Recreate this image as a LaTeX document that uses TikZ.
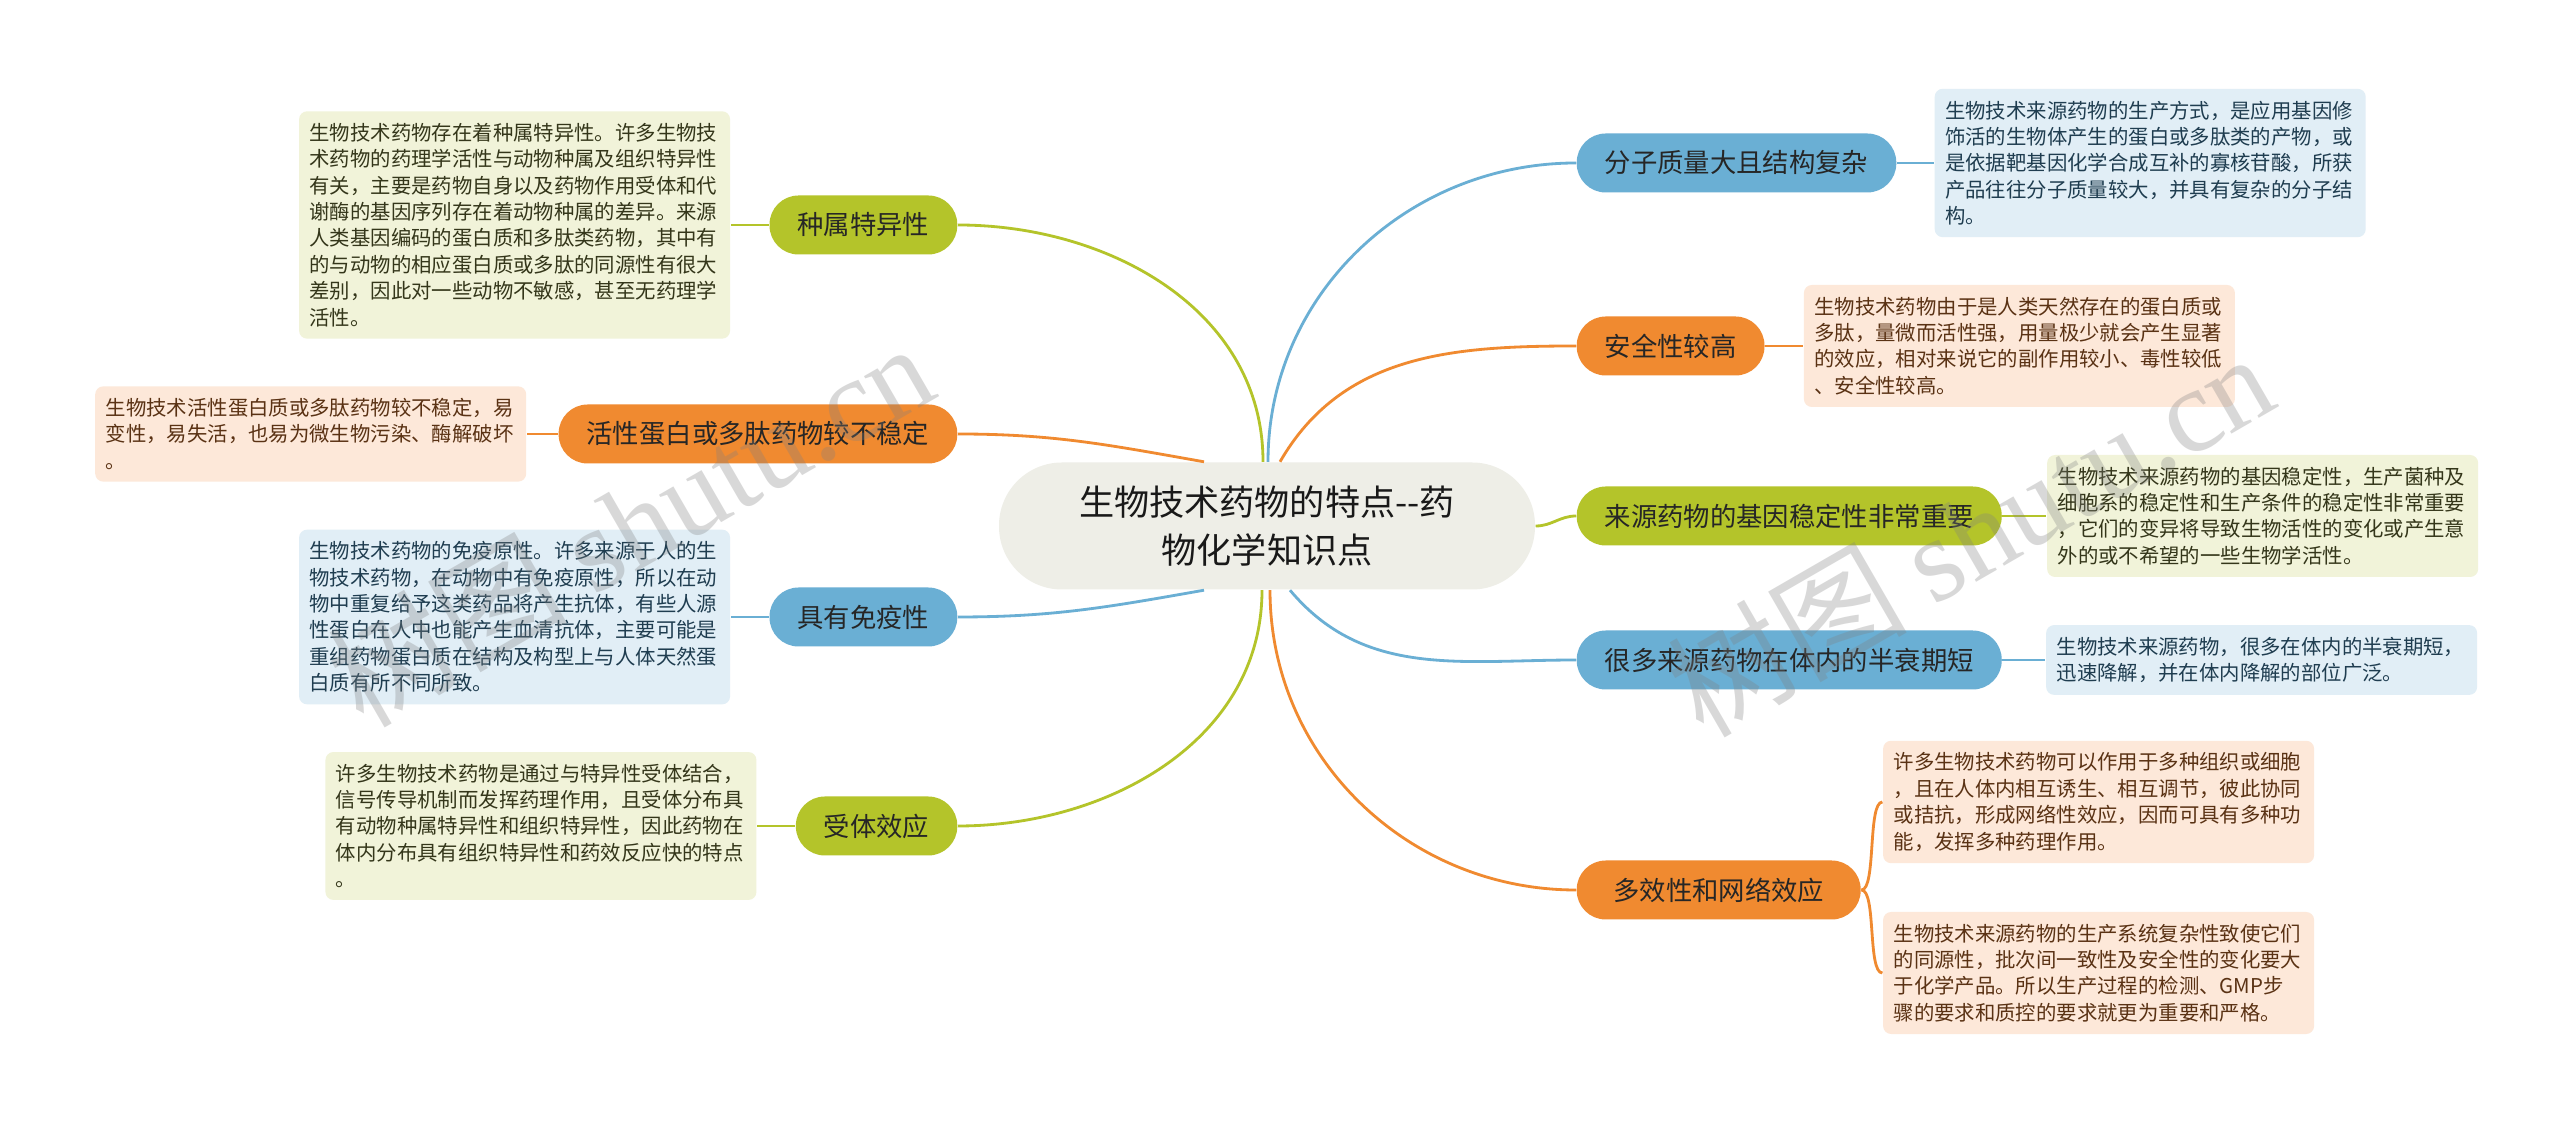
\documentclass[tikz,border=0pt]{standalone}
\usepackage{fontspec}
\setmainfont{Noto Sans CJK SC}
\newfontfamily\wmserif{Liberation Serif}
\usepackage{tikz}
\usetikzlibrary{positioning}
\definecolor{brgreen}{HTML}{B4C42A}
\definecolor{brorange}{HTML}{F08A30}
\definecolor{brblue}{HTML}{6AAFD4}
\definecolor{topicfill}{HTML}{EEEEE7}
\definecolor{lfgreen}{HTML}{F1F3D9}
\definecolor{lforange}{HTML}{FDE8D9}
\definecolor{lfblue}{HTML}{E1EEF6}
\definecolor{txgreen}{HTML}{34361A}
\definecolor{txorange}{HTML}{5A3214}
\definecolor{txblue}{HTML}{1F3D50}

\begin{document}
\begin{tikzpicture}[node distance=0.38cm,
    branch/.style={rectangle, rounded corners=2.9mm, minimum height=5.9mm, inner xsep=2.8mm, inner ysep=0pt, font=\fontsize{7.5}{9}\selectfont, text=black!85},
    leaf/.style={rectangle, rounded corners=0.8mm, text width=4.1cm, align=left, inner xsep=1.05mm, inner ysep=1.2mm, font=\fontsize{5.8}{7.5}\selectfont},
    link/.style={line width=0.8pt},
    wmtext/.style={text=black!50, opacity=0.3, font=\fontsize{34}{34}\selectfont}]
    \fill[white] (0,0) rectangle (25.6,11.23);
    \useasboundingbox (0,0) rectangle (25.6,11.23);

    \node (topic) [rectangle, rounded corners=6.3mm, fill=topicfill, minimum width=5.36cm, minimum height=12.7mm, align=center, font=\fontsize{10}{13.7}\selectfont, text=black!90] at (12.67,5.97) {生物技术药物的特点-{}-药\\物化学知识点};

    \node (species) [branch, fill=brgreen, anchor=east] at (9.58,8.98) {种属特异性};
    \node (unstable) [branch, fill=brorange, anchor=east] at (9.58,6.89) {活性蛋白或多肽药物较不稳定};
    \node (immune) [branch, fill=brblue, anchor=east] at (9.58,5.06) {具有免疫性};
    \node (receptor) [branch, fill=brgreen, anchor=east] at (9.58,2.97) {受体效应};
    \node (mass) [branch, fill=brblue, anchor=west] at (15.76,9.60) {分子质量大且结构复杂};
    \node (safety) [branch, fill=brorange, anchor=west] at (15.76,7.77) {安全性较高};
    \node (gene) [branch, fill=brgreen, anchor=west] at (15.76,6.07) {来源药物的基因稳定性非常重要};
    \node (halflife) [branch, fill=brblue, anchor=west] at (15.76,4.63) {很多来源药物在体内的半衰期短};
    \node (network) [branch, fill=brorange, anchor=west, minimum width=2.84cm] at (15.76,2.33) {多效性和网络效应};

    \node (speciesnote) [leaf, fill=lfgreen, text=txgreen, left=of species] {生物技术药物存在着种属特异性。许多生物技\\术药物的药理学活性与动物种属及组织特异性\\有关，主要是药物自身以及药物作用受体和代\\谢酶的基因序列存在着动物种属的差异。来源\\人类基因编码的蛋白质和多肽类药物，其中有\\的与动物的相应蛋白质或多肽的同源性有很大\\差别，因此对一些动物不敏感，甚至无药理学\\活性。};
    \node (unstablenote) [leaf, fill=lforange, text=txorange, left=0.31cm of unstable] {生物技术活性蛋白质或多肽药物较不稳定，易\\变性，易失活，也易为微生物污染、酶解破坏\\。};
    \node (immunenote) [leaf, fill=lfblue, text=txblue, left=of immune] {生物技术药物的免疫原性。许多来源于人的生\\物技术药物，在动物中有免疫原性，所以在动\\物中重复给予这类药品将产生抗体，有些人源\\性蛋白在人中也能产生血清抗体，主要可能是\\重组药物蛋白质在结构及构型上与人体天然蛋\\白质有所不同所致。};
    \node (receptornote) [leaf, fill=lfgreen, text=txgreen, left=of receptor] {许多生物技术药物是通过与特异性受体结合，\\信号传导机制而发挥药理作用，且受体分布具\\有动物种属特异性和组织特异性，因此药物在\\体内分布具有组织特异性和药效反应快的特点\\。};
    \node (massnote) [leaf, fill=lfblue, text=txblue, right=0.37cm of mass] {生物技术来源药物的生产方式，是应用基因修\\饰活的生物体产生的蛋白或多肽类的产物，或\\是依据靶基因化学合成互补的寡核苷酸，所获\\产品往往分子质量较大，并具有复杂的分子结\\构。};
    \node (safetynote) [leaf, fill=lforange, text=txorange, right=of safety] {生物技术药物由于是人类天然存在的蛋白质或\\多肽，量微而活性强，用量极少就会产生显著\\的效应，相对来说它的副作用较小、毒性较低\\、安全性较高。};
    \node (genenote) [leaf, fill=lfgreen, text=txgreen, right=0.44cm of gene] {生物技术来源药物的基因稳定性，生产菌种及\\细胞系的稳定性和生产条件的稳定性非常重要\\，它们的变异将导致生物活性的变化或产生意\\外的或不希望的一些生物学活性。};
    \node (halflifenote) [leaf, fill=lfblue, text=txblue, right=0.43cm of halflife] {生物技术来源药物，很多在体内的半衰期短，\\迅速降解，并在体内降解的部位广泛。};
    \node (networknote) [leaf, fill=lforange, text=txorange, right=0.21cm of network, yshift=0.88cm] {许多生物技术药物可以作用于多种组织或细胞\\，且在人体内相互诱生、相互调节，彼此协同\\或拮抗，形成网络性效应，因而可具有多种功\\能，发挥多种药理作用。};
    \node (qualitynote) [leaf, fill=lforange, text=txorange, right=0.21cm of network, yshift=-0.83cm] {生物技术来源药物的生产系统复杂性致使它们\\的同源性，批次间一致性及安全性的变化要大\\于化学产品。所以生产过程的检测、GMP步\\骤的要求和质控的要求就更为重要和严格。};

    \draw[link, brgreen] ([xshift=-0.4mm]topic.north) to[out=90, in=0] (species.east);
    \draw[link, brorange] ([xshift=-6.3mm]topic.north) to[out=170, in=0] (unstable.east);
    \draw[link, brblue] ([xshift=-6.3mm]topic.south) to[out=190, in=0] (immune.east);
    \draw[link, brgreen] ([xshift=-0.5mm]topic.south) to[out=270, in=0] (receptor.east);
    \draw[link, brblue] ([xshift=0.1mm]topic.north) to[out=90, in=180] (mass.west);
    \draw[link, brorange] ([xshift=1.3mm]topic.north) to[out=60, in=180] (safety.west);
    \draw[link, brgreen] (topic.east) to[out=0, in=180] (gene.west);
    \draw[link, brblue] ([xshift=2.3mm]topic.south) to[out=-50, in=180] (halflife.west);
    \draw[link, brorange] ([xshift=0.3mm]topic.south) to[out=270, in=180] (network.west);

    \draw[link, brgreen] (species.west) -- (speciesnote.east);
    \draw[link, brorange] (unstable.west) -- (unstablenote.east);
    \draw[link, brblue] (immune.west) -- (immunenote.east);
    \draw[link, brgreen] (receptor.west) -- (receptornote.east);
    \draw[link, brblue] (mass.east) -- (massnote.west);
    \draw[link, brorange] (safety.east) -- (safetynote.west);
    \draw[link, brgreen] (gene.east) -- (genenote.west);
    \draw[link, brblue] (halflife.east) -- (halflifenote.west);
    \draw[link, brorange] (network.east) .. controls +(0.15,0) and +(-0.15,0) .. (networknote.west);
    \draw[link, brorange] (network.east) .. controls +(0.15,0) and +(-0.15,0) .. (qualitynote.west);

    \node (leftmark) [wmtext, rotate=30] at (6.3,6.0) {树图 {\wmserif shutu.cn}};
    \node (rightmark) [wmtext, rotate=30] at (19.7,5.9) {树图 {\wmserif shutu.cn}};
\end{tikzpicture}
\end{document}
